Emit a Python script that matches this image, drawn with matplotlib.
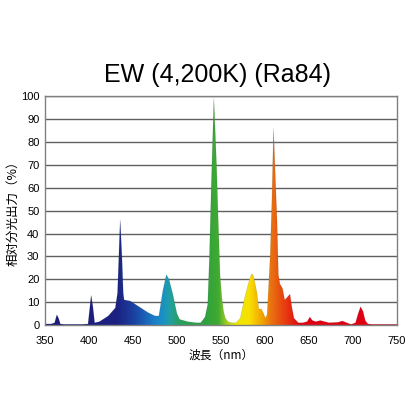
import numpy as np
import matplotlib
matplotlib.use("Agg")
import matplotlib.pyplot as plt
from matplotlib.colors import LinearSegmentedColormap

plt.rcParams['font.family'] = ['Liberation Sans', 'Noto Sans CJK JP', 'DejaVu Sans']

# spectrum (wavelength nm, relative output %)
wavelength = [350, 357, 361, 363.5, 365.5, 367.5, 372, 392, 399, 402.5, 404.5, 406.5, 412, 422, 430, 432.5,
              434, 435.5, 437.5, 439, 440, 447, 457, 467, 475, 479.5, 484, 488, 491, 495, 500,
              503, 512, 522, 527, 532, 535, 537, 539, 542, 545, 547, 549, 551, 553, 555, 558,
              562, 567, 572, 577, 582.5, 585, 587, 591, 593, 596, 598.5, 600.5, 602.5, 606, 608, 609.8,
              611.8, 613.8, 615.3, 617, 620, 622.5, 625, 628.5, 630.5, 633, 638, 643, 648, 651, 654, 658,
              663, 668, 673, 683, 688, 693, 698, 703, 706, 708.7, 711.5, 714, 717, 722, 750]
output = [0.5, 0.5, 1, 4.5, 3, 0.5, 0.3, 0.3, 0.5, 13, 8, 1, 1.5, 4, 7.5, 14,
          30, 46, 30, 14, 11, 10.5, 8, 5.5, 4, 4, 15, 22, 20, 14, 5,
          2.5, 1.5, 1, 1, 3.5, 9, 30, 60, 99, 70, 45, 22, 12, 6, 3, 1.5,
          1, 1, 3, 12, 20, 22.5, 21.5, 14, 7, 7, 5, 3, 4.5, 30, 55, 86,
          65, 45, 22, 18, 16, 11, 12, 13.5, 8, 3, 1, 1, 1.5, 3.5, 2, 1.5,
          2, 1.5, 1, 1.2, 1.8, 1, 0.3, 1, 5, 8, 6, 2, 0.5, 0.3, 0.3]

xticks = [350, 400, 450, 500, 550, 600, 650, 700, 750]
yticks = [0, 10, 20, 30, 40, 50, 60, 70, 80, 90, 100]

# colour along wavelength
stops = [(350, '#1c1c78'), (432, '#1c2282'), (452, '#1a44a4'), (474, '#1a7ec8'),
         (484, '#1a92c4'), (492, '#22a0a0'), (502, '#28a060'), (532, '#2ea040'),
         (547, '#40aa30'), (557, '#a8d020'), (567, '#ece800'), (582, '#f8e000'),
         (597, '#f2a400'), (608, '#e87010'), (622, '#e84010'), (642, '#e00012'),
         (750, '#e00012')]
cmap = LinearSegmentedColormap.from_list(
    'spec', [((w - 350) / 400, c) for w, c in stops])

fig = plt.figure(figsize=(4.2, 4.2), dpi=100)
ax = fig.add_axes([0.107, 0.226, 0.838, 0.545])

ax.set_xlim(350, 750)
ax.set_ylim(0, 100)
ax.set_yticks(yticks)
ax.set_xticks(xticks)
ax.grid(axis='y', color='#606060', linewidth=1)
ax.set_axisbelow(True)

poly = ax.fill_between(wavelength, output, 0, color='none')
grad = np.linspace(0, 1, 800).reshape(1, -1)
img = ax.imshow(grad, cmap=cmap, aspect='auto', extent=[350, 750, 0, 100],
                origin='lower', zorder=2)
img.set_clip_path(poly.get_paths()[0], transform=ax.transData)
ax.plot(wavelength, output, color='black', linewidth=0.4, alpha=0.15, zorder=3)

for s in ax.spines.values():
    s.set_color('#808080')
    s.set_linewidth(1)
ax.tick_params(length=0, labelsize=8, pad=4)
ax.tick_params(axis='x', pad=8)

ax.set_xlabel('波長（nm）', fontsize=8.5, labelpad=2,
              family=['Noto Sans CJK JP', 'DejaVu Sans'])
ax.set_ylabel('相対分光出力（%）', fontsize=9, labelpad=1,
              family=['Noto Sans CJK JP', 'DejaVu Sans'])
fig.text(0.519, 0.821, 'EW (4,200K) (Ra84)', fontsize=18, ha='center', va='center')

fig.savefig('out.png', dpi=100)
